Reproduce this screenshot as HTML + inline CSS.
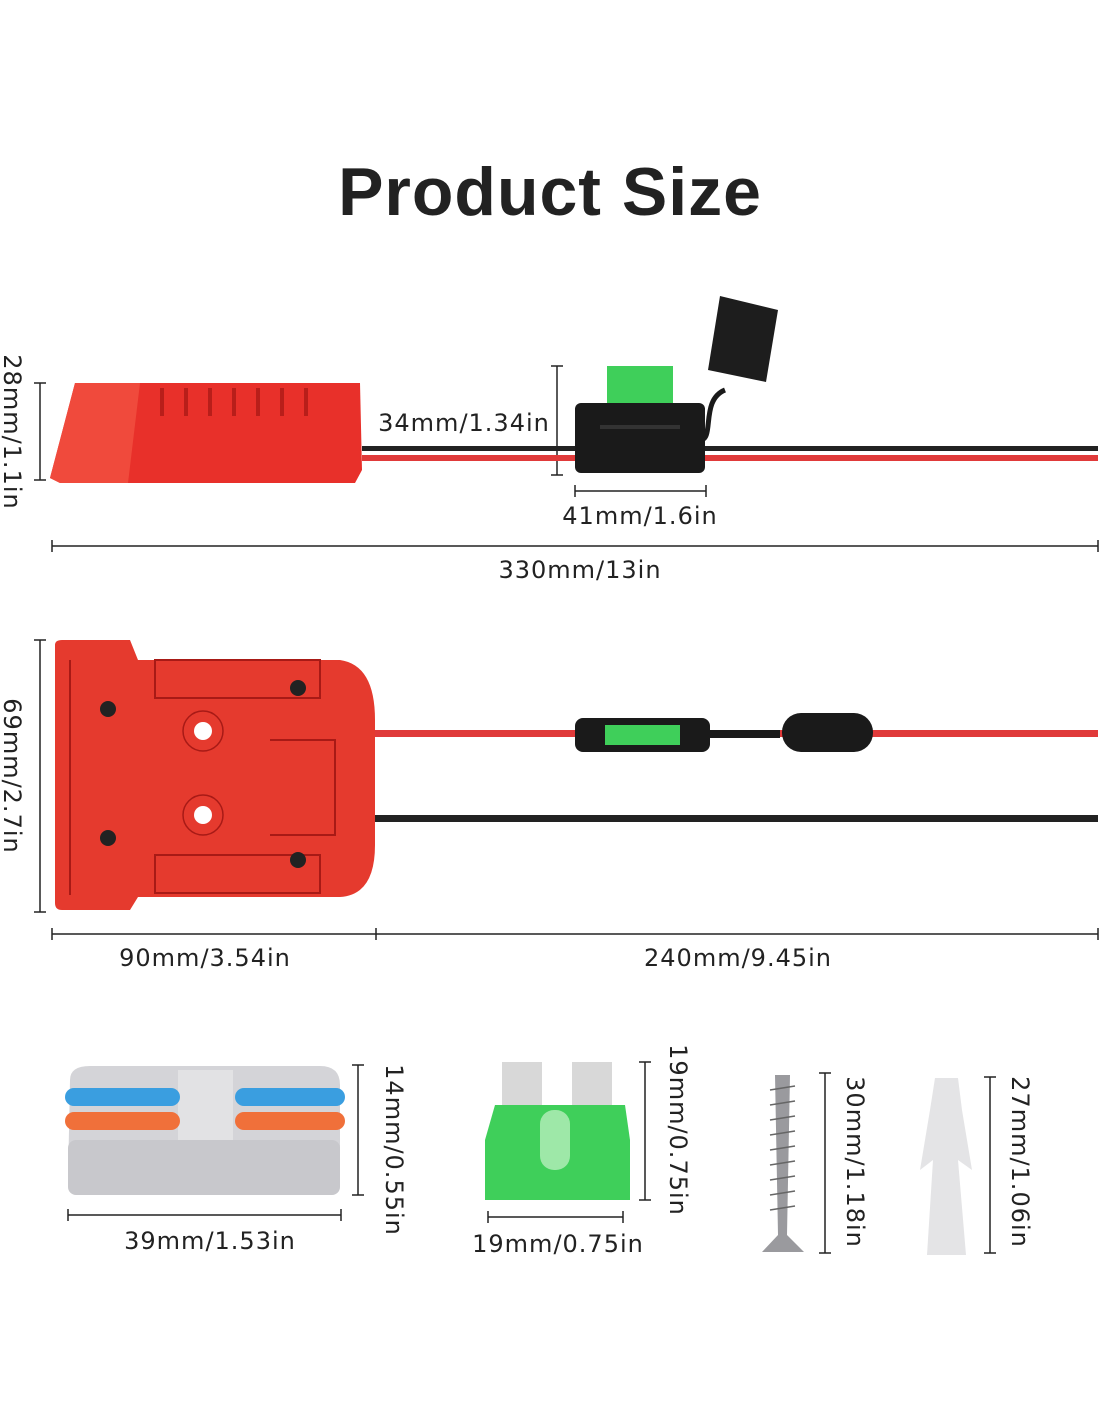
<!DOCTYPE html>
<html><head><meta charset="utf-8"><style>
html,body{margin:0;padding:0;background:#fff}
svg{display:block}
text{font-family:"DejaVu Sans","Liberation Sans",sans-serif;fill:#222;letter-spacing:1px}
.t{font-family:"Liberation Sans",sans-serif}
</style></head><body>
<svg width="1100" height="1422" viewBox="0 0 1100 1422" xmlns="http://www.w3.org/2000/svg">
<text class="t" x="550" y="215" font-size="68" font-weight="bold" text-anchor="middle" fill="#1a1a1a">Product Size</text>

<!-- Section 1 -->
<g stroke="#222" stroke-width="1.5" fill="none">
<line x1="40" y1="383" x2="40" y2="480"/><line x1="34" y1="383" x2="46" y2="383"/><line x1="34" y1="480" x2="46" y2="480"/>
<line x1="557" y1="366" x2="557" y2="475"/><line x1="551" y1="366" x2="563" y2="366"/><line x1="551" y1="475" x2="563" y2="475"/>
<line x1="575" y1="491" x2="706" y2="491"/><line x1="575" y1="485" x2="575" y2="497"/><line x1="706" y1="485" x2="706" y2="497"/>
<line x1="52" y1="546" x2="1098" y2="546"/><line x1="52" y1="540" x2="52" y2="552"/><line x1="1098" y1="540" x2="1098" y2="552"/>
</g>
<text transform="translate(4,432) rotate(90)" font-size="24" text-anchor="middle">28mm/1.1in</text>
<text x="464" y="431" font-size="24" text-anchor="middle">34mm/1.34in</text>
<text x="640" y="524" font-size="24" text-anchor="middle">41mm/1.6in</text>
<text x="580" y="578" font-size="24" text-anchor="middle">330mm/13in</text>
<rect x="362" y="446" width="736" height="5" fill="#222"/>
<rect x="362" y="455" width="736" height="6" fill="#e03a3a"/>
<polygon points="50,478 75,383 360,383 362,470 355,483 60,483" fill="#e8302a"/>
<polygon points="50,478 75,383 140,383 128,483 60,483" fill="#f04a3c"/>
<g fill="#b81e1a"><rect x="160" y="388" width="4" height="28"/><rect x="184" y="388" width="4" height="28"/><rect x="208" y="388" width="4" height="28"/><rect x="232" y="388" width="4" height="28"/><rect x="256" y="388" width="4" height="28"/><rect x="280" y="388" width="4" height="28"/><rect x="304" y="388" width="4" height="28"/></g>
<rect x="607" y="366" width="66" height="38" fill="#3fcf5a"/>
<rect x="575" y="403" width="130" height="70" rx="6" fill="#1a1a1a"/>
<rect x="600" y="425" width="80" height="4" fill="#333"/>
<path d="M700 440 C 715 440 700 400 725 390" stroke="#1a1a1a" stroke-width="5" fill="none"/>
<polygon points="720,296 778,310 766,382 708,370" fill="#1d1d1d"/>

<!-- Section 2 -->
<g stroke="#222" stroke-width="1.5" fill="none">
<line x1="40" y1="640" x2="40" y2="912"/><line x1="34" y1="640" x2="46" y2="640"/><line x1="34" y1="912" x2="46" y2="912"/>
<line x1="52" y1="934" x2="1098" y2="934"/><line x1="52" y1="928" x2="52" y2="940"/><line x1="376" y1="928" x2="376" y2="940"/><line x1="1098" y1="928" x2="1098" y2="940"/>
</g>
<text transform="translate(4,776) rotate(90)" font-size="24" text-anchor="middle">69mm/2.7in</text>
<text x="205" y="966" font-size="24" text-anchor="middle">90mm/3.54in</text>
<text x="738" y="966" font-size="24" text-anchor="middle">240mm/9.45in</text>
<rect x="370" y="730" width="728" height="7" fill="#e03a3a"/>
<rect x="370" y="815" width="728" height="7" fill="#222"/>
<path d="M55 645 Q55 640 62 640 H130 L138 660 H340 Q375 665 375 720 V845 Q375 895 340 897 H138 L130 910 H62 Q55 910 55 903 Z" fill="#e53a2e"/>
<g fill="none" stroke="#a81a16" stroke-width="2">
<rect x="155" y="660" width="165" height="38"/><rect x="155" y="855" width="165" height="38"/>
<path d="M270 740 H335 V835 H270"/>
<line x1="70" y1="660" x2="70" y2="895"/>
</g>
<g fill="#fff"><circle cx="203" cy="731" r="9"/><circle cx="203" cy="815" r="9"/></g>
<g fill="none" stroke="#a81a16" stroke-width="1.5"><circle cx="203" cy="731" r="20"/><circle cx="203" cy="815" r="20"/></g>
<g fill="#222"><circle cx="108" cy="709" r="8"/><circle cx="108" cy="838" r="8"/><circle cx="298" cy="688" r="8"/><circle cx="298" cy="860" r="8"/></g>
<rect x="575" y="718" width="135" height="34" rx="8" fill="#1a1a1a"/>
<rect x="605" y="725" width="75" height="20" fill="#3fcf5a"/>
<rect x="710" y="730" width="70" height="8" fill="#1a1a1a"/>
<rect x="782" y="713" width="91" height="39" rx="19" fill="#1a1a1a"/>

<!-- Section 3 -->
<g stroke="#222" stroke-width="1.5" fill="none">
<line x1="358" y1="1065" x2="358" y2="1195"/><line x1="352" y1="1065" x2="364" y2="1065"/><line x1="352" y1="1195" x2="364" y2="1195"/>
<line x1="68" y1="1215" x2="341" y2="1215"/><line x1="68" y1="1209" x2="68" y2="1221"/><line x1="341" y1="1209" x2="341" y2="1221"/>
<line x1="645" y1="1062" x2="645" y2="1200"/><line x1="639" y1="1062" x2="651" y2="1062"/><line x1="639" y1="1200" x2="651" y2="1200"/>
<line x1="488" y1="1217" x2="623" y2="1217"/><line x1="488" y1="1211" x2="488" y2="1223"/><line x1="623" y1="1211" x2="623" y2="1223"/>
<line x1="825" y1="1073" x2="825" y2="1253"/><line x1="819" y1="1073" x2="831" y2="1073"/><line x1="819" y1="1253" x2="831" y2="1253"/>
<line x1="990" y1="1077" x2="990" y2="1253"/><line x1="984" y1="1077" x2="996" y2="1077"/><line x1="984" y1="1253" x2="996" y2="1253"/>
</g>
<text transform="translate(386,1150) rotate(90)" font-size="24" text-anchor="middle">14mm/0.55in</text>
<text x="210" y="1249" font-size="24" text-anchor="middle">39mm/1.53in</text>
<text transform="translate(670,1130) rotate(90)" font-size="24" text-anchor="middle">19mm/0.75in</text>
<text x="558" y="1252" font-size="24" text-anchor="middle">19mm/0.75in</text>
<text transform="translate(847,1162) rotate(90)" font-size="24" text-anchor="middle">30mm/1.18in</text>
<text transform="translate(1012,1162) rotate(90)" font-size="24" text-anchor="middle">27mm/1.06in</text>

<path d="M70 1080 Q70 1066 90 1066 H320 Q340 1066 340 1085 V1180 Q340 1195 320 1195 H85 Q68 1195 68 1180 Z" fill="#d4d4d8"/>
<rect x="68" y="1140" width="272" height="55" rx="8" fill="#c8c8cc"/>
<rect x="178" y="1070" width="55" height="70" fill="#e2e2e4"/>
<rect x="65" y="1088" width="115" height="18" rx="9" fill="#3a9ee0"/>
<rect x="235" y="1088" width="110" height="18" rx="9" fill="#3a9ee0"/>
<rect x="65" y="1112" width="115" height="18" rx="9" fill="#f0703a"/>
<rect x="235" y="1112" width="110" height="18" rx="9" fill="#f0703a"/>

<rect x="502" y="1062" width="40" height="48" fill="#d8d8d8"/>
<rect x="572" y="1062" width="40" height="48" fill="#d8d8d8"/>
<path d="M495 1105 H625 L630 1140 V1200 H485 V1140 Z" fill="#3fcf5a"/>
<rect x="540" y="1110" width="30" height="60" rx="14" fill="#9ee8a8"/>

<polygon points="775,1075 790,1075 787,1235 804,1252 762,1252 778,1235" fill="#9a9a9e"/>
<g stroke="#666" stroke-width="1.5"><line x1="770" y1="1090" x2="795" y2="1086"/><line x1="770" y1="1105" x2="795" y2="1101"/><line x1="770" y1="1120" x2="795" y2="1116"/><line x1="770" y1="1135" x2="795" y2="1131"/><line x1="770" y1="1150" x2="795" y2="1146"/><line x1="770" y1="1165" x2="795" y2="1161"/><line x1="770" y1="1180" x2="795" y2="1176"/><line x1="770" y1="1195" x2="795" y2="1191"/><line x1="770" y1="1210" x2="795" y2="1206"/></g>

<polygon points="935,1078 958,1078 962,1110 972,1170 958,1160 966,1255 927,1255 933,1160 920,1170 930,1110" fill="#e4e4e6"/>
</svg>
</body></html>
